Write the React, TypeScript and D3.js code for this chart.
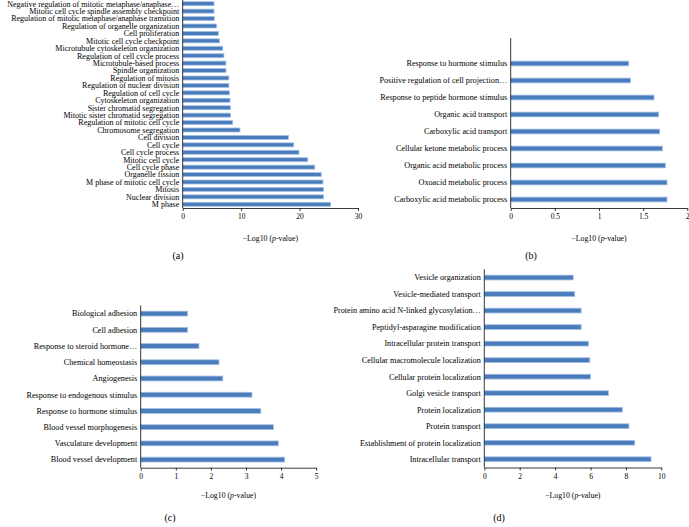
import React, { useEffect, useRef } from 'react';
import * as d3 from 'd3';

// panel (a)
const termsA = [
  'Negative regulation of mitotic metaphase/anaphase…',
  'Mitotic cell cycle spindle assembly checkpoint',
  'Regulation of mitotic metaphase/anaphase transition',
  'Regulation of organelle organization',
  'Cell proliferation',
  'Mitotic cell cycle checkpoint',
  'Microtubule cytoskeleton organization',
  'Regulation of cell cycle process',
  'Microtubule-based process',
  'Spindle organization',
  'Regulation of mitosis',
  'Regulation of nuclear division',
  'Regulation of cell cycle',
  'Cytoskeleton organization',
  'Sister chromatid segregation',
  'Mitotic sister chromatid segregation',
  'Regulation of mitotic cell cycle',
  'Chromosome segregation',
  'Cell division',
  'Cell cycle',
  'Cell cycle process',
  'Mitotic cell cycle',
  'Cell cycle phase',
  'Organelle fission',
  'M phase of mitotic cell cycle',
  'Mitosis',
  'Nuclear division',
  'M phase',
];
const valuesA = [5.36, 5.36, 5.4, 5.8, 6.1, 6.3, 6.85, 7.05, 7.4, 7.4, 7.9, 7.9, 8.0, 8.1, 8.15, 8.2, 8.55, 9.8,
  18.1, 19.0, 19.9, 21.4, 22.6, 23.7, 24.0, 24.1, 24.1, 25.3];
const ticksA = [0, 10, 20, 30];

// panel (b)
const termsB = [
  'Response to hormone stimulus',
  'Positive regulation of cell projection…',
  'Response to peptide hormone stimulus',
  'Organic acid transport',
  'Carboxylic acid transport',
  'Cellular ketone metabolic process',
  'Organic acid metabolic process',
  'Oxoacid metabolic process',
  'Carboxylic acid metabolic process',
];
const valuesB = [1.336, 1.358, 1.623, 1.675, 1.687, 1.717, 1.751, 1.77, 1.77];
const ticksB = [0, 0.5, 1, 1.5, 2];

// panel (c)
const termsC = [
  'Biological adhesion',
  'Cell adhesion',
  'Response to steroid hormone…',
  'Chemical homeostasis',
  'Angiogenesis',
  'Response to endogenous stimulus',
  'Response to hormone stimulus',
  'Blood vessel morphogenesis',
  'Vasculature development',
  'Blood vessel development',
];
const valuesC = [1.33, 1.33, 1.66, 2.23, 2.34, 3.17, 3.42, 3.78, 3.92, 4.1];
const ticksC = [0, 1, 2, 3, 4, 5];

// panel (d)
const termsD = [
  'Vesicle organization',
  'Vesicle-mediated transport',
  'Protein amino acid N-linked glycosylation…',
  'Peptidyl-asparagine modification',
  'Intracellular protein transport',
  'Cellular macromolecule localization',
  'Cellular protein localization',
  'Golgi vesicle transport',
  'Protein localization',
  'Protein transport',
  'Establishment of protein localization',
  'Intracellular transport',
];
const valuesD = [5.02, 5.11, 5.47, 5.47, 5.88, 5.96, 6.0, 7.01, 7.8, 8.17, 8.5, 9.42];
const ticksD = [0, 2, 4, 6, 8, 10];

const FONT = '"Liberation Serif", "DejaVu Serif", serif';

const panels = [
  { id: '(a)', terms: termsA, values: valuesA, ticks: ticksA, x0: 182.7, x1: 358, top: 0, bandTop: 0, bottom: 208,
    labelSize: 8, pad: 0.46, titleY: 238, letter: [178, 255] },
  { id: '(b)', terms: termsB, values: valuesB, ticks: ticksB, x0: 510.7, x1: 687.3, top: 38, bandTop: 55, bottom: 208,
    labelSize: 8.2, pad: 0.72, titleY: 238, letter: [531, 255] },
  { id: '(c)', terms: termsC, values: valuesC, ticks: ticksC, x0: 140.7, x1: 316.2, top: 305.5, bandTop: 305.5, bottom: 467.7,
    labelSize: 8.2, pad: 0.7, titleY: 495, letter: [170, 517] },
  { id: '(d)', terms: termsD, values: valuesD, ticks: ticksD, x0: 484.3, x1: 661.3, top: 269.3, bandTop: 269.3, bottom: 467.5,
    labelSize: 8.2, pad: 0.71, titleY: 495, letter: [499, 517] },
];

export default function App() {
  const svgRef = useRef<SVGSVGElement | null>(null);

  useEffect(() => {
    const svg = d3.select(svgRef.current);
    svg.selectAll('*').remove();

    panels.forEach(p => {
      const g = svg.append('g');
      const x = d3.scaleLinear()
        .domain([0, p.ticks[p.ticks.length - 1]])
        .range([p.x0, p.x1]);
      const y = d3.scaleBand()
        .domain(p.terms)
        .range([p.bandTop, p.bottom])
        .paddingInner(p.pad)
        .paddingOuter(p.pad / 2);

      // bars
      g.selectAll('rect')
        .data(p.terms)
        .enter().append('rect')
        .attr('x', x(0))
        .attr('y', d => y(d)!)
        .attr('width', (d, i) => x(p.values[i]) - x(0))
        .attr('height', y.bandwidth())
        .attr('fill', '#4a7cbc')
        .attr('stroke', '#a3c0e6')
        .attr('stroke-width', 0.8);

      // category labels
      g.selectAll('text.cat')
        .data(p.terms)
        .enter().append('text')
        .attr('class', 'cat')
        .attr('x', x(0) - 3.5)
        .attr('y', d => y(d)! + y.bandwidth() / 2)
        .attr('dy', '0.35em')
        .attr('text-anchor', 'end')
        .attr('font-family', FONT)
        .attr('font-size', p.labelSize)
        .attr('fill', '#000')
        .text(d => d);

      // x axis
      const ax = g.append('g')
        .attr('transform', `translate(0,${p.bottom})`)
        .call(d3.axisBottom(x).tickValues(p.ticks).tickSize(3).tickPadding(3).tickSizeOuter(0)
          .tickFormat(d => String(d)));
      ax.select('.domain').attr('stroke', '#222').attr('stroke-width', 0.9);
      ax.selectAll('.tick line').attr('stroke', '#222').attr('stroke-width', 0.9);
      ax.selectAll('.tick text')
        .attr('font-family', FONT)
        .attr('font-size', 7.5)
        .attr('fill', '#000');

      // y axis line
      g.append('line')
        .attr('x1', x(0)).attr('x2', x(0))
        .attr('y1', p.top).attr('y2', p.bottom)
        .attr('stroke', '#222')
        .attr('stroke-width', 0.9);

      // axis title
      const t = g.append('text')
        .attr('x', (p.x0 + p.x1) / 2)
        .attr('y', p.titleY)
        .attr('dy', '0.35em')
        .attr('text-anchor', 'middle')
        .attr('font-family', FONT)
        .attr('font-size', 7.8)
        .attr('fill', '#000');
      t.append('tspan').text('−Log10 (');
      t.append('tspan').attr('font-style', 'italic').text('p');
      t.append('tspan').text('-value)');

      // panel letter
      g.append('text')
        .attr('x', p.letter[0])
        .attr('y', p.letter[1])
        .attr('dy', '0.35em')
        .attr('text-anchor', 'middle')
        .attr('font-family', FONT)
        .attr('font-size', 10)
        .attr('fill', '#000')
        .text(p.id);
    });
  }, []);

  return (
    <svg ref={svgRef} width={689} height={527}
      style={{ position: 'absolute', left: 0, top: 0, background: '#fff' }} />
  );
}
